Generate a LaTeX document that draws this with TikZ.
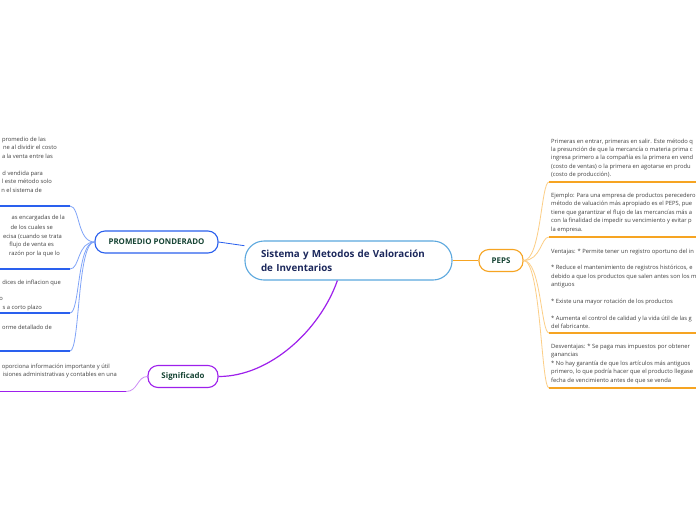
\documentclass[tikz,border=0pt]{standalone}
\usepackage{fontspec}
\setmainfont{Open Sans}
\usetikzlibrary{positioning}
\usepackage{xcolor}
\definecolor{rootnavy}{RGB}{28,40,92}
\definecolor{labelgreen}{RGB}{22,68,52}
\definecolor{bodygray}{RGB}{64,64,64}
\definecolor{rootblue}{RGB}{92,168,222}
\definecolor{pondblue}{RGB}{42,96,238}
\definecolor{pondlight}{RGB}{128,164,248}
\definecolor{pepsorange}{RGB}{246,164,34}
\definecolor{pepslight}{RGB}{252,206,134}
\definecolor{sigpurple}{RGB}{158,32,236}
\definecolor{siglight}{RGB}{204,140,246}

\begin{document}
\begin{tikzpicture}[x=1pt, y=-1pt,
  root/.style={rectangle, draw=rootblue, fill=white, line width=1.1pt, rounded corners=19pt, minimum width=207pt, minimum height=39pt, text width=175pt, align=left, font=\fontsize{9.8}{13.8}\selectfont\bfseries, text=rootnavy},
  topic/.style={rectangle, fill=white, line width=1.1pt, rounded corners=10pt, minimum height=22pt, font=\fontsize{7.9}{8}\selectfont\bfseries, text=labelgreen},
  txt/.style={inner sep=0pt, font=\fontsize{5.8}{7}\selectfont, text=bodygray},
  under/.style={line width=1.4pt},
  link/.style={line width=0.8pt}
]
\useasboundingbox (0,0) rectangle (696,520);
\clip (0,0) rectangle (696,520);
\fill[white] (0,0) rectangle (696,520);

% main topics
\node[root] (root) at (348.5,260.5) {Sistema y Metodos de Valoración\\de Inventarios};
\node[topic, draw=pondblue, minimum width=123pt] (prom) at (156.5,242) {PROMEDIO PONDERADO};
\node[topic, draw=pepsorange, minimum width=44pt] (peps) at (501,260.5) {PEPS};
\node[topic, draw=sigpurple, minimum width=70pt] (sig) at (183,376.5) {Significado};

\draw[pondblue, link] (prom.east) -- (root);
\draw[pepsorange, link] (root.east) -- (peps.west);
\draw[sigpurple, line width=1.2pt] (root.-119) .. controls (320,330) and (270,376.5) .. (sig.east);

% promedio ponderado
\foreach \y [count=\i] in {206,269,313,351} {
  \coordinate (pl\i) at (70,\y);
  \draw[pondlight, link] (prom.west) .. controls (77,242) and (80,\y) .. (pl\i);
  \draw[pondblue, under] (pl\i) -- (-2,\y);
}
\foreach \y/\x/\t [count=\i] in {141/46/promedio de las, 149/57/ne al dividir el costo, 158/53/a la venta entre las,
  175/43/d vendida para, 183/52/l este método solo, 192/42/n el sistema de,
  219/65/as encargadas de la, 229/53/de los cuales se, 238/62/ecisa (cuando se trata, 246/54/flujo de venta es, 255/60/razón por la que lo,
  284/61/dices de inflacion que, 300/3/o, 309/42/s a corto plazo,
  329/52/orme detallado de}
  \node[txt, anchor=base east] (pt\i) at (\x,\y) {\t};

% significado
\coordinate (sl) at (126,391.5);
\draw[siglight, link] (sig.west) .. controls (137,376.5) and (138,391.5) .. (sl);
\draw[sigpurple, under] (sl) -- (-2,391.5);
\node[txt, anchor=base east] (st1) at (110,368) {oporciona información importante y útil};
\node[txt, anchor=base east] (st2) at (117,376) {isiones administrativas y contables en una};

% peps
\foreach \y [count=\i] in {182,237,333,388} {
  \coordinate (er\i) at (549,\y);
  \draw[pepslight, link] (peps.east) .. controls (541,260.5) and (541,\y) .. (er\i);
  \draw[pepsorange, under] (er\i) -- (698,\y);
}
\foreach \y/\t [count=\i] in {143/{Primeras en entrar, primeras en salir. Este método q}, 151.4/{la presunción de que la mercancía o materia prima c},
  159.8/{ingresa primero a la compañía es la primera en vend}, 168.2/{(costo de ventas) o la primera en agotarse en produ},
  176.6/{(costo de producción).},
  197/{Ejemplo: Para una empresa de productos perecedero}, 205.5/{método de valuación más apropiado es el PEPS, pue},
  214/{tiene que garantizar el flujo de las mercancías más a}, 222.5/{con la finalidad de impedir su vencimiento y evitar p},
  231/{la empresa.},
  253/{Ventajas: * Permite tener un registro oportuno del in}, 269.8/{* Reduce el mantenimiento de registros históricos, e},
  278.2/{debido a que los productos que salen antes son los m}, 286.6/{antiguos},
  303.4/{* Existe una mayor rotación de los productos},
  320.2/{* Aumenta el control de calidad y la vida útil de las g}, 328.6/{del fabricante.},
  348/{Desventajas: * Se paga mas impuestos por obtener}, 356.5/{ganancias},
  365/{* No hay garantía de que los artículos más antiguos}, 373.5/{primero, lo que podría hacer que el producto llegase},
  382/{fecha de vencimiento antes de que se venda}}
  \node[txt, anchor=base west] (rt\i) at (551,\y) {\t};
\end{tikzpicture}
\end{document}
